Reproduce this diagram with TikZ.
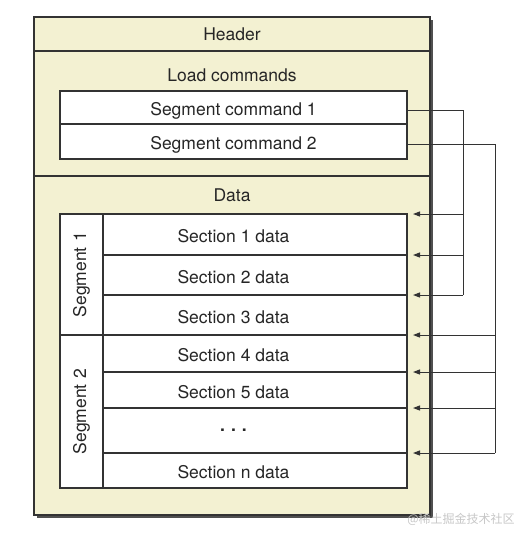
\documentclass[tikz,border=0pt]{standalone}
\usepackage{fontspec}
\setmainfont{TeX Gyre Heros}
\newfontfamily\cjkfont{Noto Sans CJK SC}
\usetikzlibrary{arrows.meta, calc, positioning}
\definecolor{panelfill}{HTML}{F3F1D2}
\definecolor{linegray}{HTML}{333333}
\definecolor{shadowgray}{HTML}{505050}

\begin{document}
\begin{tikzpicture}[x=1pt, y=-1pt,
		every node/.style={font=\fontsize{17.5}{20}\selectfont, text=black!85},
		panel/.style={draw=linegray, line width=1.2pt, fill=panelfill, inner sep=0pt, outer sep=0pt, minimum width=396pt},
		cell/.style={draw=linegray, line width=1.2pt, fill=white, inner sep=0pt, outer sep=0pt, minimum width=347pt},
		row/.style={cell, text height=16pt, text depth=0pt},
		segcell/.style={cell, rotate=90, minimum height=43pt},
		link/.style={draw=linegray, line width=1pt},
		feed/.style={link, -{Triangle[length=7pt,width=5pt]}, shorten >=6pt}]
	
	\useasboundingbox (0,0) rectangle (524,541);
	
	% shadow and file panels
	\fill[shadowgray] (37,20) rectangle (433,518);
	\node[panel, minimum height=34pt] (header) at (232,34) {Header};
	\node[panel, minimum height=125pt, below=0pt of header] (load) {};
	\node[panel, minimum height=339pt, below=0pt of load] (data) {};
	\node (loadlabel) at ($(load.north)+(0,24)$) {Load commands};
	\node (datalabel) at ($(data.north)+(0,19)$) {Data};
	
	% load commands
	\node[row, minimum height=33pt] (cmd1) at (233.5,107.5) {Segment command 1};
	\node[row, minimum height=35pt, below=0pt of cmd1] (cmd2) {Segment command 2};
	
	% sections
	\node[row, minimum height=41pt] (sec1) at (233.5,234.5) {Section 1 data};
	\node[row, minimum height=40pt, below=0pt of sec1] (sec2) {Section 2 data};
	\node[row, minimum height=40pt, below=0pt of sec2] (sec3) {Section 3 data};
	\node[row, minimum height=37pt, below=0pt of sec3] (sec4) {Section 4 data};
	\node[row, minimum height=36pt, below=0pt of sec4] (sec5) {Section 5 data};
	\node[cell, minimum height=45pt, below=0pt of sec5] (dots) {\bfseries .\hspace{6pt}.\hspace{6pt}.};
	\node[row, minimum height=35pt, below=0pt of dots] (secn) {Section n data};
	
	% segments
	\node[segcell, minimum width=121pt] (seg1) at (81.5,274.5) {Segment\hspace{6pt}1};
	\node[segcell, minimum width=153pt] (seg2) at (81.5,411.5) {Segment\hspace{6pt}2};
	
	% segment command links
	\coordinate (bus1) at (463,0);
	\coordinate (bus2) at (495,0);
	\draw[link] ($(cmd1.east)+(0,3)$) -| (bus1 |- sec3.north);
	\draw[link] ($(cmd2.east)+(0,3)$) -| (bus2 |- secn.north);
	\foreach \s in {sec1,sec2,sec3}
		\draw[feed] (bus1 |- \s.north) -- (\s.north east);
	\foreach \s in {sec4,sec5,dots,secn}
		\draw[feed] (bus2 |- \s.north) -- (\s.north east);
	
	\node[font=\cjkfont\fontsize{12}{14}\selectfont, text=black!22] (mark) at (461,519) {@稀土掘金技术社区};
	
\end{tikzpicture}
\end{document}
